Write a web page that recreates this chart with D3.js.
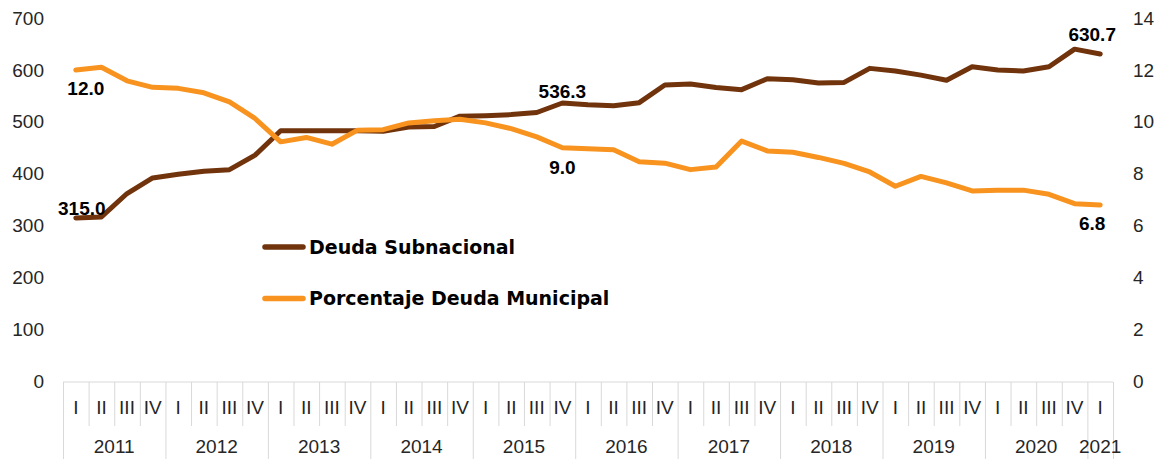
<!DOCTYPE html>
<html>
<head>
<meta charset="utf-8">
<script src="https://cdn.jsdelivr.net/npm/d3@7"></script>
<style>
  body { margin: 0; background: #fff; }
  svg { display: block; }
</style>
</head>
<body>
<svg id="chart"></svg>
<script>
// quarters 2011 I .. 2021 I
const quarters = ['I','II','III','IV','I','II','III','IV','I','II','III','IV','I','II','III','IV','I','II','III','IV',
  'I','II','III','IV','I','II','III','IV','I','II','III','IV','I','II','III','IV','I','II','III','IV','I']
const years = [2011,2011,2011,2011,2012,2012,2012,2012,2013,2013,2013,2013,2014,2014,2014,2014,2015,2015,2015,2015,
  2016,2016,2016,2016,2017,2017,2017,2017,2018,2018,2018,2018,2019,2019,2019,2019,2020,2020,2020,2020,2021]

// Deuda Subnacional (left axis)
const deuda = [315.0, 317, 362, 392, 399, 405, 408, 436, 483, 483, 483, 483, 482, 490, 491, 511, 512, 514, 518, 536.3,
  533, 531, 537, 571, 573, 566, 562, 583, 581, 575, 576, 603, 598, 590, 580, 606, 600, 598, 606, 640, 630.7]
// Porcentaje Deuda Municipal (right axis)
const municipal = [12.0, 12.1, 11.58, 11.33, 11.29, 11.12, 10.77, 10.13, 9.23, 9.4, 9.14, 9.68, 9.7, 9.96, 10.04, 10.1,
  9.96, 9.74, 9.42, 9.0, 8.96, 8.93, 8.46, 8.41, 8.16, 8.26, 9.26, 8.88, 8.83, 8.63, 8.4, 8.07, 7.52, 7.9, 7.65, 7.34,
  7.37, 7.37, 7.21, 6.85, 6.8]

const leftTicks = [0, 100, 200, 300, 400, 500, 600, 700]
const rightTicks = [0, 2, 4, 6, 8, 10, 12, 14]
const seriesNames = ['Deuda Subnacional', 'Porcentaje Deuda Municipal']

// labelled points: series (0 = deuda, 1 = municipal), index, placement
const labels = [
  {s: 0, i: 0, dx: 6, dy: -10},
  {s: 1, i: 0, dx: 10, dy: 18},
  {s: 0, i: 19, dx: 0, dy: -12},
  {s: 1, i: 19, dx: 0, dy: 20},
  {s: 0, i: 40, dx: -8, dy: -20},
  {s: 1, i: 40, dx: -8, dy: 18}
]

const width = 1158
const height = 459
const brown = '#70330b'
const orange = '#f7931e'
const txtColor = '#262626'
const axisColor = '#d9d9d9'
const numFont = '"Liberation Sans", Arial, sans-serif'
const boldFont = '"DejaVu Sans", sans-serif'

const svg = d3.select('#chart')
  .attr('width', width)
  .attr('height', height)
  .attr('viewBox', [0, 0, width, height])

const I = d3.range(quarters.length)
const x = d3.scaleBand(I, [63, 1113]).padding(0)
const yL = d3.scaleLinear([0, 700], [381.5, 18])
const yR = d3.scaleLinear([0, 14], [381.5, 18])
const cx = i => x(i) + x.bandwidth() / 2

// left axis
svg.append('g')
  .attr('transform', 'translate(50,0)')
  .call(d3.axisLeft(yL).tickValues(leftTicks).tickSize(0).tickPadding(6))
  .call(g => g.select('.domain').remove())
  .call(g => g.selectAll('text')
    .attr('fill', txtColor)
    .style('font-family', numFont)
    .style('font-size', '19px'))

// right axis
svg.append('g')
  .attr('transform', 'translate(1127,0)')
  .call(d3.axisRight(yR).tickValues(rightTicks).tickSize(0).tickPadding(6))
  .call(g => g.select('.domain').remove())
  .call(g => g.selectAll('text')
    .attr('fill', txtColor)
    .style('font-family', numFont)
    .style('font-size', '19px'))

// category axis (two levels)
const axisY = yL(0) + 0.5
const catAxis = svg.append('g')
catAxis.append('line')
  .attr('x1', x.range()[0]).attr('x2', x.range()[1])
  .attr('y1', axisY).attr('y2', axisY)
  .attr('stroke', axisColor).attr('stroke-width', 1)

const bounds = d3.range(quarters.length + 1)
const isYearEdge = b => b === 0 || b === quarters.length || years[b] !== years[b - 1]
const edgeX = b => (b === quarters.length ? x.range()[1] : x(b)) + 0.5

catAxis.selectAll('.sep')
  .data(bounds)
  .join('line')
  .attr('class', 'sep')
  .attr('x1', edgeX).attr('x2', edgeX)
  .attr('y1', axisY)
  .attr('y2', b => isYearEdge(b) ? height : 426)
  .attr('stroke', axisColor).attr('stroke-width', 1)

catAxis.selectAll('.q')
  .data(I)
  .join('text')
  .attr('class', 'q')
  .attr('x', cx)
  .attr('y', 407)
  .attr('dy', '0.35em')
  .attr('text-anchor', 'middle')
  .attr('fill', txtColor)
  .style('font-family', numFont)
  .style('font-size', '19px')
  .text(i => quarters[i])

const yearGroups = d3.groups(I, i => years[i])
catAxis.selectAll('.yr')
  .data(yearGroups)
  .join('text')
  .attr('class', 'yr')
  .attr('x', ([, idx]) => (x(idx[0]) + x(idx[idx.length - 1]) + x.bandwidth()) / 2)
  .attr('y', 446)
  .attr('dy', '0.35em')
  .attr('text-anchor', 'middle')
  .attr('fill', txtColor)
  .style('font-family', numFont)
  .style('font-size', '19px')
  .text(([yr]) => yr)

// lines
const lineL = d3.line().x(cx).y(i => yL(deuda[i]))
const lineR = d3.line().x(cx).y(i => yR(municipal[i]))

svg.append('path')
  .attr('fill', 'none')
  .attr('stroke', brown)
  .attr('stroke-width', 5)
  .attr('stroke-linecap', 'round')
  .attr('stroke-linejoin', 'round')
  .attr('d', lineL(I))

svg.append('path')
  .attr('fill', 'none')
  .attr('stroke', orange)
  .attr('stroke-width', 5)
  .attr('stroke-linecap', 'round')
  .attr('stroke-linejoin', 'round')
  .attr('d', lineR(I))

// data labels
svg.selectAll('.lbl')
  .data(labels)
  .join('text')
  .attr('class', 'lbl')
  .attr('x', d => cx(d.i) + d.dx)
  .attr('y', d => (d.s === 0 ? yL(deuda[d.i]) : yR(municipal[d.i])) + d.dy)
  .attr('dy', '0.35em')
  .attr('text-anchor', 'middle')
  .attr('fill', '#000')
  .style('font-family', numFont)
  .style('font-weight', 'bold')
  .style('font-size', '19px')
  .text(d => d.s === 0 ? deuda[d.i].toFixed(1) : municipal[d.i].toFixed(1))

// legend
const legend = svg.append('g')
const legendRows = [
  {name: seriesNames[0], color: brown, y: 247},
  {name: seriesNames[1], color: orange, y: 298.5}
]
legend.selectAll('line')
  .data(legendRows)
  .join('line')
  .attr('x1', 265).attr('x2', 303)
  .attr('y1', d => d.y).attr('y2', d => d.y)
  .attr('stroke', d => d.color)
  .attr('stroke-width', 5.5)
  .attr('stroke-linecap', 'round')
legend.selectAll('text')
  .data(legendRows)
  .join('text')
  .attr('x', 309)
  .attr('y', d => d.y + 6.5)
  .attr('fill', '#000')
  .style('font-family', boldFont)
  .style('font-weight', 'bold')
  .style('font-size', '19px')
  .text(d => d.name)
</script>
</body>
</html>
